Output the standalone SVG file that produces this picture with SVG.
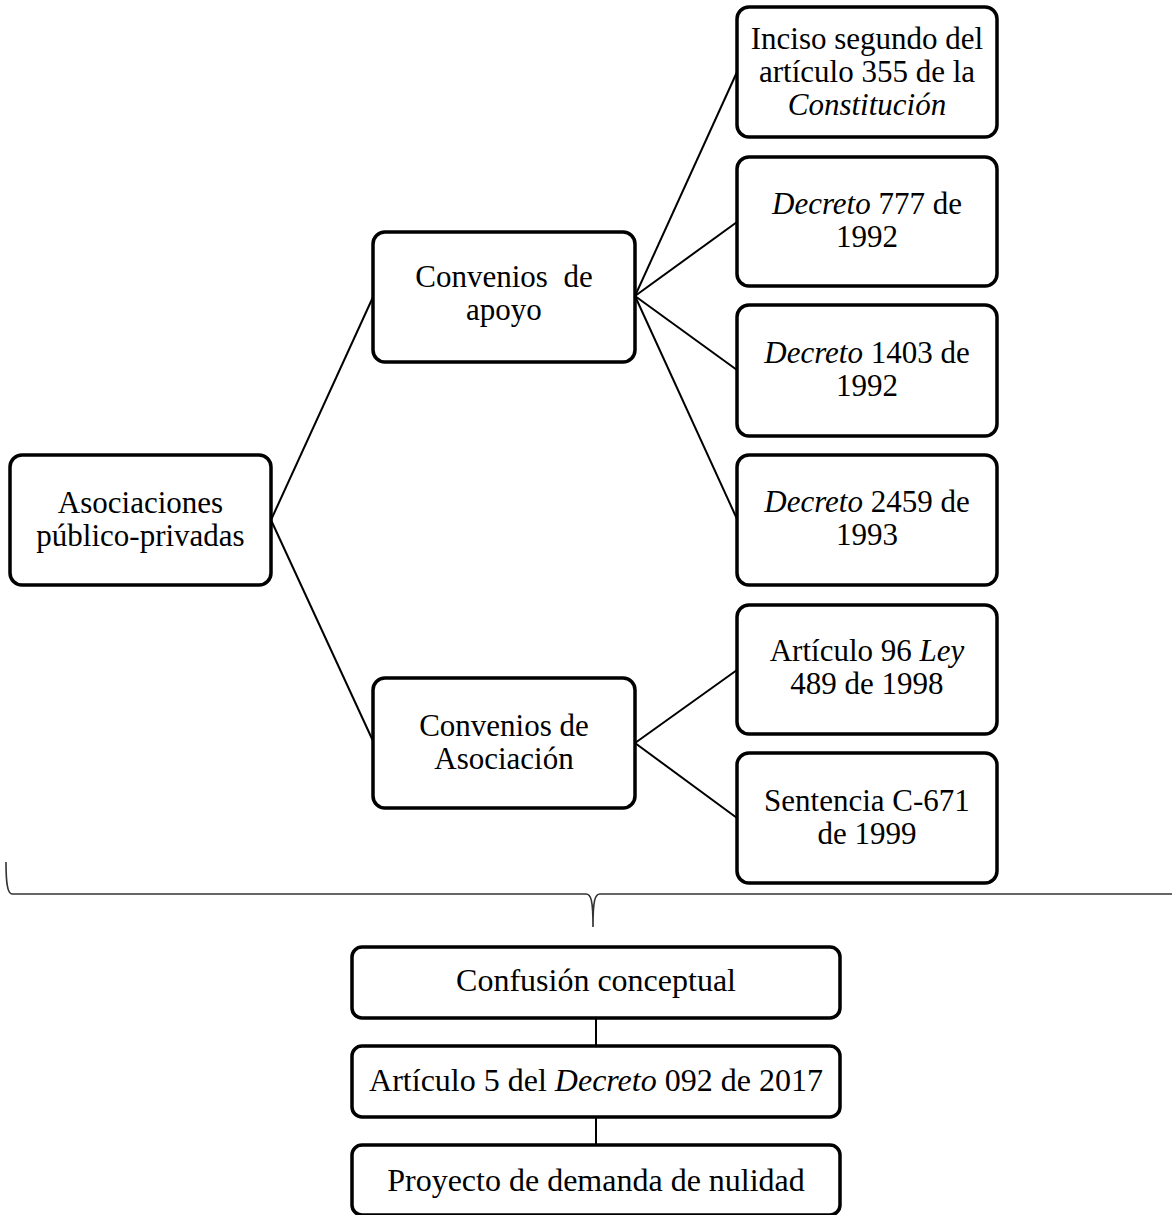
<svg xmlns="http://www.w3.org/2000/svg" width="1172" height="1215" viewBox="0 0 1172 1215">
<style>
.box{fill:#fff;stroke:#000;stroke-width:3.5}
.t{font-family:"Liberation Serif","Times New Roman",serif;font-size:31px;fill:#000;text-anchor:middle;white-space:pre}
.s{font-size:32px}
.i{font-style:italic}
.c{stroke:#000;stroke-width:2;fill:none}
.br{stroke:#333;stroke-width:1.6;fill:none}
</style>
<rect width="1172" height="1215" fill="#fff"/>
<g id="connectors">
<line class="c" x1="271" y1="520" x2="373" y2="297"/>
<line class="c" x1="271" y1="520" x2="373" y2="741"/>
<line class="c" x1="635" y1="296" x2="737" y2="72"/>
<line class="c" x1="635" y1="296" x2="737" y2="222"/>
<line class="c" x1="635" y1="296" x2="737" y2="370"/>
<line class="c" x1="635" y1="296" x2="737" y2="519"/>
<line class="c" x1="635" y1="743" x2="737" y2="670"/>
<line class="c" x1="635" y1="743" x2="737" y2="818"/>
<line class="c" x1="596" y1="1018" x2="596" y2="1046"/>
<line class="c" x1="596" y1="1117" x2="596" y2="1145"/>
<path class="br" d="M6,862 C6,880 7,894 12,894 L586,894 C591,894 593,900 593,927 C593,900 595,894 600,894 L1172,894"/>
</g>
<g id="n-asociaciones">
<rect class="box" x="10" y="455" width="261" height="130" rx="12"/>
<text class="t" x="140.5" y="513">Asociaciones</text>
<text class="t" x="140.5" y="546">público-privadas</text>
</g>
<g id="n-apoyo">
<rect class="box" x="373" y="232" width="262" height="130" rx="12"/>
<text class="t" x="504" y="287">Convenios  de</text>
<text class="t" x="504" y="320">apoyo</text>
</g>
<g id="n-asociacion">
<rect class="box" x="373" y="678" width="262" height="130" rx="12"/>
<text class="t" x="504" y="736">Convenios de</text>
<text class="t" x="504" y="769">Asociación</text>
</g>
<g id="n-inciso">
<rect class="box" x="737" y="7" width="260" height="130" rx="12"/>
<text class="t" x="867" y="49">Inciso segundo del</text>
<text class="t" x="867" y="82">artículo 355 de la</text>
<text class="t i" x="867" y="115">Constitución</text>
</g>
<g id="n-d777">
<rect class="box" x="737" y="157" width="260" height="129" rx="12"/>
<text class="t" x="867" y="214"><tspan class="i">Decreto</tspan> 777 de</text>
<text class="t" x="867" y="247">1992</text>
</g>
<g id="n-d1403">
<rect class="box" x="737" y="305" width="260" height="131" rx="12"/>
<text class="t" x="867" y="363"><tspan class="i">Decreto</tspan> 1403 de</text>
<text class="t" x="867" y="396">1992</text>
</g>
<g id="n-d2459">
<rect class="box" x="737" y="455" width="260" height="130" rx="12"/>
<text class="t" x="867" y="512"><tspan class="i">Decreto</tspan> 2459 de</text>
<text class="t" x="867" y="545">1993</text>
</g>
<g id="n-art96">
<rect class="box" x="737" y="605" width="260" height="129" rx="12"/>
<text class="t" x="867" y="661">Artículo 96 <tspan class="i">Ley</tspan></text>
<text class="t" x="867" y="694">489 de 1998</text>
</g>
<g id="n-c671">
<rect class="box" x="737" y="753" width="260" height="130" rx="12"/>
<text class="t" x="867" y="811">Sentencia C-671</text>
<text class="t" x="867" y="844">de 1999</text>
</g>
<g id="n-confusion">
<rect class="box" x="352" y="947" width="488" height="71" rx="10"/>
<text class="t s" x="596" y="991">Confusión conceptual</text>
</g>
<g id="n-art5">
<rect class="box" x="352" y="1046" width="488" height="71" rx="10"/>
<text class="t s" x="596" y="1091">Artículo 5 del <tspan class="i">Decreto</tspan> 092 de 2017</text>
</g>
<g id="n-proyecto">
<rect class="box" x="352" y="1145" width="488" height="70" rx="10"/>
<text class="t s" x="596" y="1191">Proyecto de demanda de nulidad</text>
</g>
</svg>
